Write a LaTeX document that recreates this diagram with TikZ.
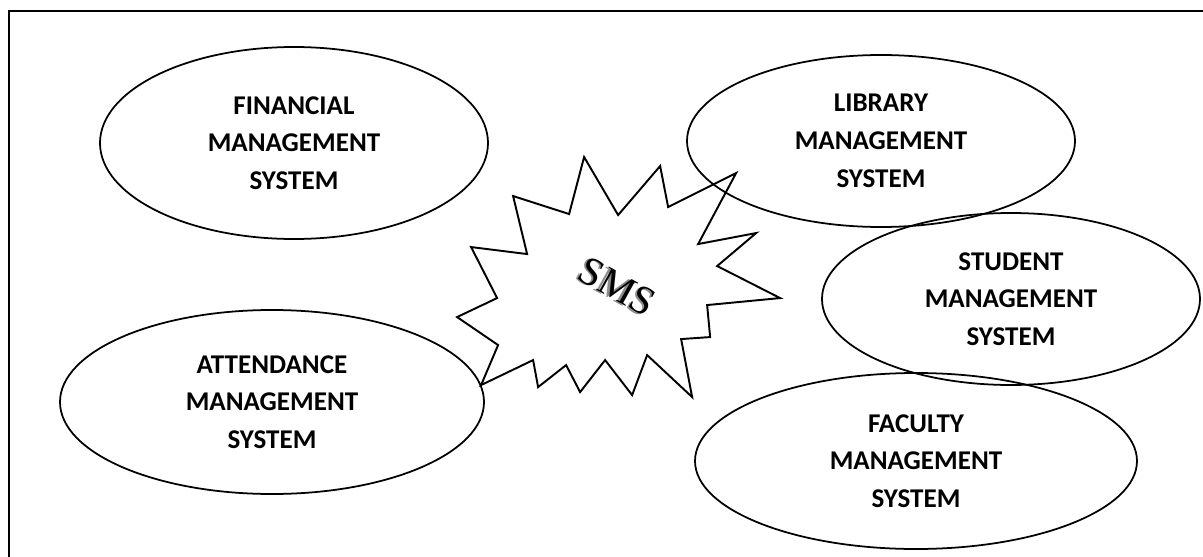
\documentclass[tikz,border=0pt]{standalone}
\usepackage{fontspec}
\setsansfont{Carlito}
\newfontfamily\smsfont{Liberation Serif}
\usetikzlibrary{shapes.geometric}
\tikzstyle{module} = [ellipse, draw=black, line width=1pt, inner sep=0pt, align=center, font=\sffamily\bfseries\fontsize{15.4}{21.5}\selectfont]
\tikzstyle{burst} = [draw=black, line width=1.1pt, line join=miter]
\tikzstyle{frame} = [draw=black, line width=1.2pt]
\tikzstyle{smstext} = [rotate=-29, inner sep=0pt, font=\smsfont\fontsize{23}{26}\selectfont]
\newcommand{\shadowed}[1]{\rlap{\kern-1pt\raisebox{-1pt}{\color{black!45}#1}}#1}

\begin{document}
\begin{tikzpicture}
\useasboundingbox (0,0) rectangle (24.06,-11.14);
\clip (0,0) rectangle (24.06,-11.14);
%frame
\draw[frame] (0.18,-0.22) rectangle (24.6,-11.6);

%left side
\node(financial)at(5.88cm,-2.86cm)[module, minimum width=7.76cm, minimum height=3.84cm]{FINANCIAL\\MANAGEMENT\\SYSTEM};
\node(attendance)at(5.44cm,-8.04cm)[module, minimum width=8.48cm, minimum height=3.68cm]{ATTENDANCE\\MANAGEMENT\\SYSTEM};

%right side
\node(library)at(17.62cm,-2.82cm)[module, minimum width=7.76cm, minimum height=3.44cm]{LIBRARY\\MANAGEMENT\\SYSTEM};
\node(student)at(20.22cm,-5.98cm)[module, minimum width=7.56cm, minimum height=3.44cm]{STUDENT\\MANAGEMENT\\SYSTEM};
\node(faculty)at(18.32cm,-9.22cm)[module, minimum width=8.84cm, minimum height=3.52cm]{FACULTY\\MANAGEMENT\\SYSTEM};

%SMS burst
\begin{scope}[x=0.02cm, y=-0.02cm]
\draw[burst] (584,157) -- (618,215) -- (660,166) -- (668,207) -- (736,173) -- (698,244)
  -- (756,233) -- (717,266) -- (780,298) -- (707,305) -- (710,337) -- (681,339)
  -- (692,397) -- (647,355) -- (632,395) -- (605,360) -- (580,392) -- (566,365)
  -- (538,387) -- (533,360) -- (481,385) -- (498,345) -- (457,317) -- (497,298)
  -- (471,247) -- (527,254) -- (513,196) -- (569,214) -- cycle;
\end{scope}
\node(sms)at(12.34cm,-5.74cm)[smstext]{\shadowed{SMS}};
\end{tikzpicture}
\end{document}
